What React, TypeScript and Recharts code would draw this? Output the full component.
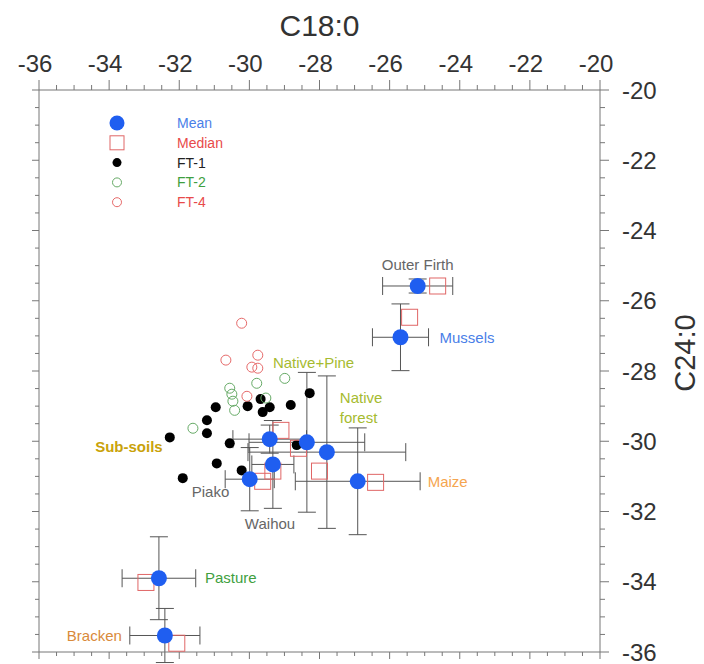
import React from 'react';
import { ScatterChart, Scatter, XAxis, YAxis, ErrorBar, Legend } from 'recharts';

// ---------- data ----------
const GROUPS = ['Outer Firth', 'Mussels', 'Native+Pine', 'Native forest', 'Sub-soils', 'Waihou', 'Piako', 'Maize', 'Pasture', 'Bracken'];
const MEAN_C18 = [-25.2, -25.69, -28.36, -27.79, -29.42, -29.33, -29.99, -26.91, -32.58, -32.41];
const MEAN_C24 = [-25.58, -27.04, -30.03, -30.31, -29.94, -30.66, -31.08, -31.14, -33.9, -35.53];
const ERR_C18 = [1.0, 0.8, 1.65, 2.25, 1.05, 0.6, 0.7, 1.78, 1.05, 1.0];
const ERR_C24 = [0.2, 0.95, 1.99, 2.17, 0.4, 1.25, 0.9, 1.52, 1.18, 0.77];
const MEDIAN_C18 = [-24.63, -25.43, -28.6, -28.0, -29.1, -29.33, -29.62, -26.4, -32.95, -32.07];
const MEDIAN_C24 = [-25.58, -26.47, -30.2, -30.85, -29.69, -30.85, -31.14, -31.17, -34.02, -35.75];

const FT1_C18 = [-32.27, -31.9, -31.21, -31.21, -30.96, -30.93, -30.56, -30.22, -30.05, -29.68, -29.62, -29.42, -28.82, -28.65, -28.28];
const FT1_C24 = [-29.89, -31.05, -29.4, -29.77, -29.03, -30.63, -30.06, -30.83, -29.0, -28.8, -29.17, -29.03, -28.97, -30.11, -28.63];
const FT2_C18 = [-31.61, -30.56, -30.5, -30.47, -30.42, -29.79, -28.99, -29.53];
const FT2_C24 = [-29.63, -28.49, -28.66, -28.86, -29.12, -28.35, -28.21, -28.77];
const FT4_C18 = [-30.22, -30.67, -29.76, -29.93, -29.76, -30.07];
const FT4_C24 = [-26.64, -27.69, -27.55, -27.89, -27.92, -28.72];

const TICK_LABELS = [-36, -34, -32, -30, -28, -26, -24, -22, -20];
const DOMAIN: [number, number] = [-36, -20];

// ---------- styles ----------
const FONT = 'Liberation Sans, Arial, Helvetica, sans-serif';
const AXIS_COLOR = '#777';
const TEXT_COLOR = '#333';
const MEAN_COLOR = '#1f5ef0';
const MEDIAN_COLOR = '#e06666';
const FT1_COLOR = '#000';
const FT2_COLOR = '#66aa66';
const FT4_COLOR = '#e66a6a';
const ERR_COLOR = '#555';

const LABEL_STYLE: Record<string, { dx: number; dy: number; anchor: 'start' | 'middle' | 'end'; color: string; bold?: boolean; lines?: string[] }> = {
  'Outer Firth': { dx: 0, dy: -21, anchor: 'middle', color: '#666' },
  Mussels: { dx: 39, dy: 0, anchor: 'start', color: '#4a80e8' },
  'Native+Pine': { dx: -34, dy: -80, anchor: 'start', color: '#a6bb30' },
  'Native forest': { dx: 13, dy: -54, anchor: 'start', color: '#a6bb30', lines: ['Native', 'forest'] },
  'Sub-soils': { dx: -107, dy: 8, anchor: 'end', color: '#c9a20a', bold: true },
  Waihou: { dx: -28, dy: 59, anchor: 'start', color: '#666' },
  Piako: { dx: -58, dy: 13, anchor: 'start', color: '#666' },
  Maize: { dx: 70, dy: 0, anchor: 'start', color: '#f5a550' },
  Pasture: { dx: 46, dy: 0, anchor: 'start', color: '#3f9f3f' },
  Bracken: { dx: -43, dy: 0, anchor: 'end', color: '#d98a3a' },
};

// ---------- derived tables ----------
const MINOR_TICKS = Array.from({ length: (DOMAIN[1] - DOMAIN[0]) * 2 + 1 }, (_, i) => DOMAIN[0] + i * 0.5);
const isMajor = (v: number) => TICK_LABELS.includes(v);

const meanData = GROUPS.map((name, i) => ({ name, x: MEAN_C18[i], y: MEAN_C24[i], ex: ERR_C18[i], ey: ERR_C24[i] }));
const medianData = GROUPS.map((name, i) => ({ name, x: MEDIAN_C18[i], y: MEDIAN_C24[i] }));
const ft1Data = FT1_C18.map((x, i) => ({ x, y: FT1_C24[i] }));
const ft2Data = FT2_C18.map((x, i) => ({ x, y: FT2_C24[i] }));
const ft4Data = FT4_C18.map((x, i) => ({ x, y: FT4_C24[i] }));

// ---------- ticks ----------
function TopTick(p: any) {
  const { x, y, payload } = p;
  const v = payload.value;
  const m = isMajor(v);
  return (
    <g>
      <line x1={x} x2={x} y1={y} y2={y - (m ? 10 : 5)} stroke={AXIS_COLOR} />
      {m && (
        <text x={x - 4} y={y - 18} textAnchor="middle" fontSize={24} fill={TEXT_COLOR} fontFamily={FONT}>
          {v}
        </text>
      )}
    </g>
  );
}
function BottomTick(p: any) {
  const { x, y, payload } = p;
  const m = isMajor(payload.value);
  return <line x1={x} x2={x} y1={y} y2={y + (m ? 7 : 4)} stroke={AXIS_COLOR} />;
}
function RightTick(p: any) {
  const { x, y, payload } = p;
  const v = payload.value;
  const m = isMajor(v);
  return (
    <g>
      <line x1={x} x2={x + (m ? 9 : 5)} y1={y} y2={y} stroke={AXIS_COLOR} />
      {m && (
        <text x={x + 22} y={y + 8.5} textAnchor="start" fontSize={24} fill={TEXT_COLOR} fontFamily={FONT}>
          {v}
        </text>
      )}
    </g>
  );
}
function LeftTick(p: any) {
  const { x, y, payload } = p;
  const m = isMajor(payload.value);
  return <line x1={x} x2={x - (m ? 7 : 4)} y1={y} y2={y} stroke={AXIS_COLOR} />;
}

// ---------- shapes ----------
const MeanShape = (p: any) => <circle cx={p.cx} cy={p.cy} r={8} fill={MEAN_COLOR} />;
const MedianShape = (p: any) => (
  <rect x={p.cx - 8} y={p.cy - 8} width={16} height={16} fill="none" stroke={MEDIAN_COLOR} strokeWidth={1} />
);
const Ft1Shape = (p: any) => <circle cx={p.cx} cy={p.cy} r={5} fill={FT1_COLOR} />;
const Ft2Shape = (p: any) => <circle cx={p.cx} cy={p.cy} r={5} fill="none" stroke={FT2_COLOR} strokeWidth={1} />;
const Ft4Shape = (p: any) => <circle cx={p.cx} cy={p.cy} r={5} fill="none" stroke={FT4_COLOR} strokeWidth={1} />;

const LabelShape = (p: any) => {
  const { cx, cy, payload } = p;
  const s = LABEL_STYLE[payload.name];
  const lines = s.lines ?? [payload.name];
  const tx = cx + s.dx;
  return (
    <text
      x={tx}
      y={cy + s.dy}
      textAnchor={s.anchor}
      fontSize={15}
      fill={s.color}
      fontWeight={s.bold ? 'bold' : 'normal'}
      fontFamily={FONT}
    >
      {lines.map((l, i) => (
        <tspan key={i} x={tx} dy={i === 0 ? '0.35em' : 20}>
          {l}
        </tspan>
      ))}
    </text>
  );
};

// ---------- legend ----------
const LEGEND_ITEMS = [
  { label: 'Mean', color: '#4a80e8' },
  { label: 'Median', color: '#e84a4a' },
  { label: 'FT-1', color: '#222' },
  { label: 'FT-2', color: '#3f9f3f' },
  { label: 'FT-4', color: '#e84a4a' },
];
function LegendContent() {
  const rowY = (i: number) => 11 + i * 19.8;
  return (
    <svg width={150} height={104} style={{ display: 'block' }}>
      <circle cx={17} cy={rowY(0)} r={7.5} fill={MEAN_COLOR} />
      <rect x={10} y={rowY(1) - 7} width={14} height={14} fill="none" stroke={MEDIAN_COLOR} />
      <circle cx={17} cy={rowY(2)} r={4.5} fill={FT1_COLOR} />
      <circle cx={17} cy={rowY(3)} r={4.5} fill="none" stroke={FT2_COLOR} />
      <circle cx={17} cy={rowY(4)} r={4.5} fill="none" stroke={FT4_COLOR} />
      {LEGEND_ITEMS.map((it, i) => (
        <text key={it.label} x={77} y={rowY(i) + 5} fontSize={14} fill={it.color} fontFamily={FONT}>
          {it.label}
        </text>
      ))}
    </svg>
  );
}

export default function App() {
  return (
    <div style={{ position: 'absolute', left: 0, top: 0, width: 704, height: 664, background: '#fff' }}>
      <ScatterChart width={704} height={664} margin={{ top: 40, right: 44, bottom: 0, left: 27 }}>
        <XAxis
          xAxisId="t"
          orientation="top"
          type="number"
          dataKey="x"
          domain={DOMAIN}
          ticks={MINOR_TICKS}
          interval={0}
          height={50}
          tickSize={0}
          tickMargin={0}
          tickLine={false}
          tick={<TopTick />}
          stroke={AXIS_COLOR}
          allowDataOverflow
          label={({ viewBox }: any) => (
            <text
              x={viewBox.x + viewBox.width / 2}
              y={viewBox.y - 4}
              textAnchor="middle"
              fontSize={30}
              fill={TEXT_COLOR}
              fontFamily={FONT}
            >
              C18:0
            </text>
          )}
        />
        <XAxis
          xAxisId="b"
          orientation="bottom"
          type="number"
          dataKey="x"
          domain={DOMAIN}
          ticks={MINOR_TICKS}
          interval={0}
          height={12}
          tickSize={0}
          tickMargin={0}
          tickLine={false}
          tick={<BottomTick />}
          stroke={AXIS_COLOR}
          allowDataOverflow
        />
        <YAxis
          yAxisId="r"
          orientation="right"
          type="number"
          dataKey="y"
          domain={DOMAIN}
          ticks={MINOR_TICKS}
          interval={0}
          width={60}
          tickSize={0}
          tickMargin={0}
          tickLine={false}
          tick={<RightTick />}
          stroke={AXIS_COLOR}
          allowDataOverflow
          label={({ viewBox }: any) => {
            const cx = viewBox.x + 85;
            const cy = viewBox.y + viewBox.height * 0.468;
            return (
              <text
                x={cx}
                y={cy}
                transform={`rotate(-90, ${cx}, ${cy})`}
                textAnchor="middle"
                dominantBaseline="central"
                fontSize={29}
                fill={TEXT_COLOR}
                fontFamily={FONT}
              >
                C24:0
              </text>
            );
          }}
        />
        <YAxis
          yAxisId="l"
          orientation="left"
          type="number"
          dataKey="y"
          domain={DOMAIN}
          ticks={MINOR_TICKS}
          interval={0}
          width={12}
          tickSize={0}
          tickMargin={0}
          tickLine={false}
          tick={<LeftTick />}
          stroke={AXIS_COLOR}
          allowDataOverflow
        />
        <Legend
          layout="vertical"
          align="center"
          verticalAlign="middle"
          content={() => <LegendContent />}
          wrapperStyle={{ left: 100, top: 112, width: 150, height: 104 }}
        />
        <Scatter name="FT-1" data={ft1Data} xAxisId="t" yAxisId="r" shape={Ft1Shape} isAnimationActive={false} />
        <Scatter name="FT-2" data={ft2Data} xAxisId="t" yAxisId="r" shape={Ft2Shape} isAnimationActive={false} />
        <Scatter name="FT-4" data={ft4Data} xAxisId="t" yAxisId="r" shape={Ft4Shape} isAnimationActive={false} />
        <Scatter name="Median" data={medianData} xAxisId="t" yAxisId="r" shape={MedianShape} isAnimationActive={false} />
        <Scatter name="Mean" data={meanData} xAxisId="t" yAxisId="r" shape={MeanShape} isAnimationActive={false}>
          <ErrorBar dataKey="ex" direction="x" width={9} stroke={ERR_COLOR} strokeWidth={1} />
          <ErrorBar dataKey="ey" direction="y" width={9} stroke={ERR_COLOR} strokeWidth={1} />
        </Scatter>
        <Scatter name="labels" data={meanData} xAxisId="t" yAxisId="r" shape={LabelShape} legendType="none" isAnimationActive={false} />
      </ScatterChart>
    </div>
  );
}
